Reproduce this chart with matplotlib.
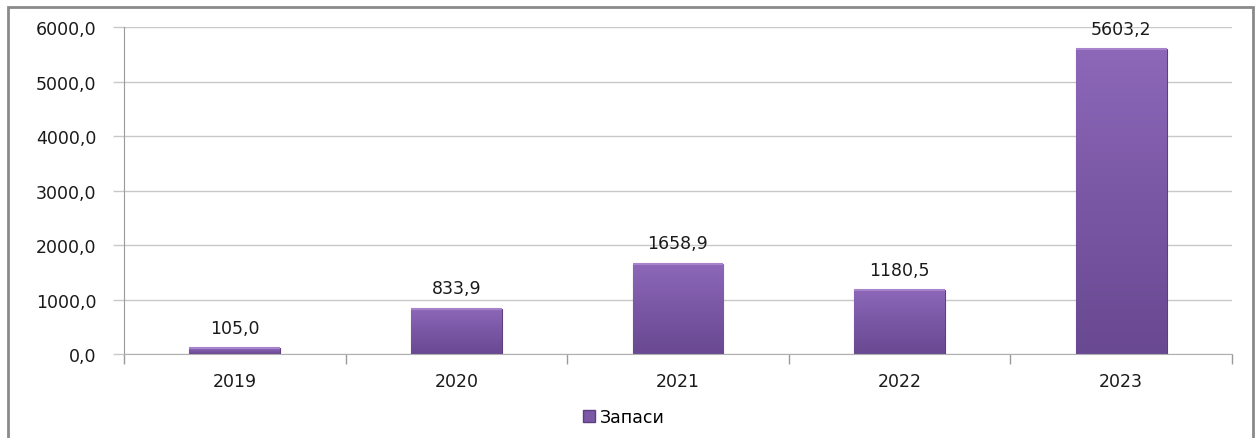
import numpy as np
import matplotlib
matplotlib.use('Agg')
import matplotlib.pyplot as plt
from matplotlib.patches import Rectangle
from matplotlib.colors import LinearSegmentedColormap

# ── Data ─────────────────────────────────────────────────────────────────────
years  = ['2019', '2020', '2021', '2022', '2023']
values = [105.0, 833.9, 1658.9, 1180.5, 5603.2]
series_name = 'Запаси'

yticks = [0, 1000, 2000, 3000, 4000, 5000, 6000]

# ── Figure ───────────────────────────────────────────────────────────────────
plt.rcParams['font.family'] = ['DejaVu Sans']
FS = 12.5
fig = plt.figure(figsize=(12.58, 4.39), dpi=100)
ax = fig.add_axes([0.0986, 0.1913, 0.8807, 0.7449])

x = np.arange(len(years))
bar_w = 0.41
bars = ax.bar(x, values, width=bar_w, color='#7b58a6',
              edgecolor='#5c3f80', linewidth=0.8, zorder=2)

# vertical gradient on each bar (lighter top, darker bottom)
cmap = LinearSegmentedColormap.from_list('purp', ['#8d68b9', '#7a57a5', '#694991'])
grad = np.linspace(1, 0, 256).reshape(-1, 1)
for b in bars:
    x0, y0 = b.get_x(), b.get_y()
    w, h = b.get_width(), b.get_height()
    im = ax.imshow(grad, cmap=cmap, aspect='auto', zorder=2.5, origin='lower',
                   extent=[x0, x0 + w, y0, y0 + h], interpolation='bilinear')
    im.set_clip_path(b)
    # light bevel along top edge
    ax.plot([x0, x0 + w], [y0 + h, y0 + h], color='#a584cc', lw=1.5,
            zorder=2.6, solid_capstyle='butt')

for xi, v in zip(x, values):
    ax.annotate(f'{v:.1f}'.replace('.', ','), (xi, v),
                xytext=(0, 8), textcoords='offset points',
                ha='center', va='bottom', fontsize=FS, color='#1a1a1a')

ax.set_xlim(-0.5, len(years) - 0.5)
ax.set_ylim(0, 6000)
ax.set_yticks(yticks)
ax.set_yticklabels([f'{t:.1f}'.replace('.', ',') for t in yticks],
                   fontsize=FS, color='#1a1a1a')
ax.yaxis.grid(True, color='#c8c8c8', linewidth=1, zorder=0)
ax.set_axisbelow(True)

ax.set_xticks(x)
ax.set_xticklabels(years, fontsize=FS, color='#1a1a1a')
ax.tick_params(axis='x', which='major', length=0, pad=13)
ax.set_xticks(np.arange(-0.5, len(years)), minor=True)
ax.tick_params(axis='x', which='minor', length=7, color='#9a9a9a', width=1)
ax.tick_params(axis='y', length=8, color='#c8c8c8', width=1, pad=12)

for s in ['top', 'right']:
    ax.spines[s].set_visible(False)
ax.spines['left'].set_color('#9a9a9a')
ax.spines['bottom'].set_color('#b0b0b0')

# legend
handle = Rectangle((0, 0), 1, 1, facecolor='#7b58a6', edgecolor='#5c3f80')
fig.legend([handle], [series_name], loc='center', bbox_to_anchor=(0.496, 0.048),
           frameon=False, fontsize=FS, handlelength=0.7, handleheight=0.7,
           handletextpad=0.3)

# outer chart border
fig.patches.append(Rectangle((8 / 1258, -0.05), 1245 / 1258, 1 - 8 / 439 + 0.05,
                             transform=fig.transFigure, fill=False,
                             edgecolor='#8a8a8a', linewidth=2))

fig.savefig('out.png', dpi=100)
